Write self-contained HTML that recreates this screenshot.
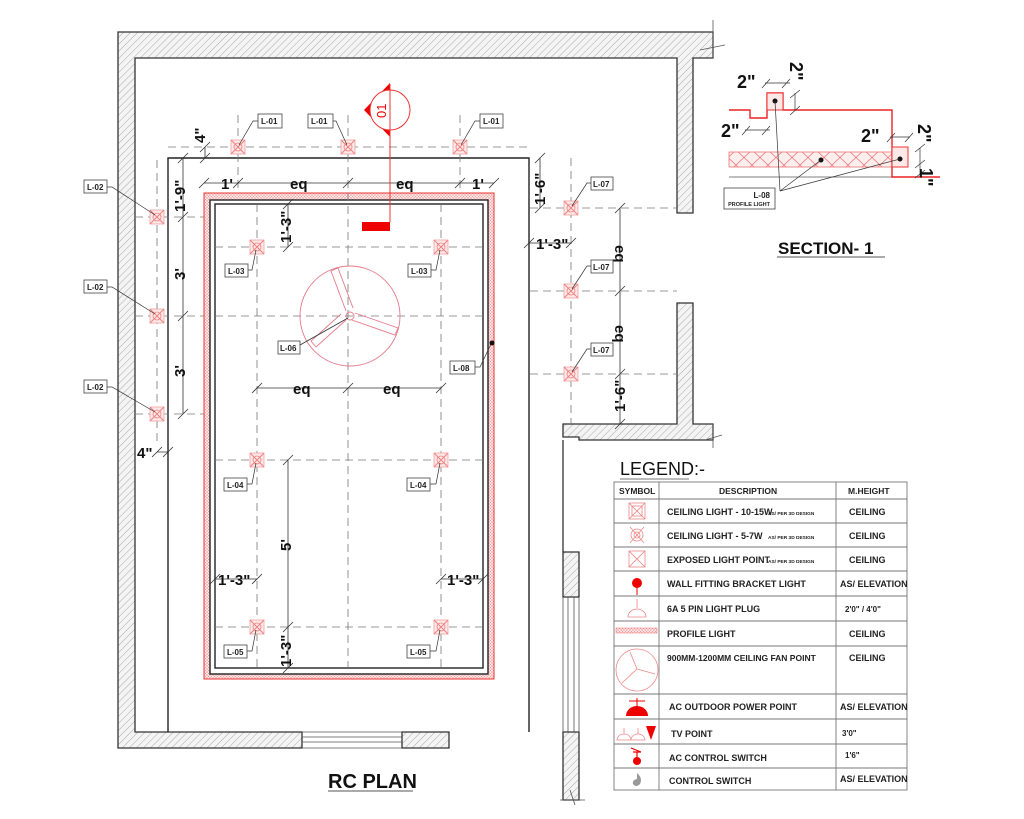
<!DOCTYPE html>
<html><head><meta charset="utf-8"><style>
html,body{margin:0;padding:0;background:#fff}
svg{display:block}
text{font-family:"Liberation Sans",Arial,sans-serif}
</style></head><body>
<svg width="1024" height="819" viewBox="0 0 1024 819" xmlns="http://www.w3.org/2000/svg">
<defs>
<pattern id="h" patternUnits="userSpaceOnUse" width="5" height="5" patternTransform="rotate(45)">
<rect width="5" height="5" fill="#f4f4f4"/><line x1="0" y1="0" x2="0" y2="5" stroke="#aaa" stroke-width="1"/></pattern>
<pattern id="x" patternUnits="userSpaceOnUse" width="3" height="3">
<rect width="3" height="3" fill="#fce8e8"/><path d="M0 0L3 3M3 0L0 3" stroke="#f29a9a" stroke-width="0.5"/></pattern>
<pattern id="x2" patternUnits="userSpaceOnUse" width="16" height="15">
<rect width="16" height="15" fill="#fdeeee"/><path d="M0 0L16 15M16 0L0 15" stroke="#e77" stroke-width="0.8"/></pattern>
<g id="L">
<rect x="-7" y="-7" width="14" height="14" fill="#fde8e8" stroke="#f3a0a0" stroke-width="0.8"/>
<path d="M-7 -7L7 7M7 -7L-7 7" stroke="#f08080" stroke-width="1"/>
<circle r="4" fill="none" stroke="#f08080" stroke-width="0.8"/>
</g>
</defs>

<!-- walls -->
<g stroke="#333" stroke-width="1.3">
<path d="M118 32H713V58H693V213H677V58H135V732H302V748H118Z" fill="url(#h)"/>
<path d="M402 732H449V748H402Z" fill="url(#h)"/>
<path d="M677 303H693V424H713V440H579V437H563V424H677Z" fill="url(#h)"/>
<path d="M563 552H579V597H563Z" fill="url(#h)"/>
<path d="M563 732H579V800H563Z" fill="url(#h)"/>
<path d="M563 440V552" fill="none"/>
</g>
<g stroke="#555" stroke-width="0.8" fill="none">
<path d="M302 732H402M302 737H402M302 742H402M302 748H402"/>
<path d="M563 597V732M568 597V732M574 597V732M579 597V732"/>
<path d="M713 20V58M700 50L725 45 M713 424V448M705 440L722 435"/>
<path d="M570 790L575 805M560 800H585"/>
</g>

<!-- ceiling boundary -->
<g fill="none" stroke="#222" stroke-width="1.4">
<path d="M168 732V158H529V732"/>
</g>
<rect x="204" y="193" width="290" height="486" fill="url(#x)" stroke="#e33" stroke-width="1"/>
<rect x="210" y="200" width="278" height="474" fill="#fff" stroke="#222" stroke-width="1.4"/>
<rect x="215" y="204" width="268" height="464" fill="#fff" stroke="#222" stroke-width="1.4"/>

<!-- dashed grid -->
<g stroke="#777" stroke-width="0.8" stroke-dasharray="8,5" fill="none">
<path d="M168 147H530"/>
<path d="M238 115V193M348 115V668M460 115V193"/>
<path d="M257 204V668M441 204V668"/>
<path d="M215 247H483M215 316H483M215 460H483M215 627H483"/>
<path d="M135 217H204M135 316H204M135 414H204"/>
<path d="M157 160V445"/>
<path d="M530 208H677M530 291H677M530 374H677"/>
<path d="M571 158V424"/>
</g>

<!-- dimension lines -->
<g stroke="#333" stroke-width="0.8" fill="none">
<path d="M183 158V414M178 163L188 153M178 222L188 212M178 321L188 311M178 419L188 409"/>
<path d="M205 147V158M200 152L210 142M200 163L210 153"/>
<path d="M204 183H494M199 188L209 178M233 188L243 178M343 188L353 178M455 188L465 178M489 188L499 178"/>
<path d="M288 204V247M283 209L293 199M283 252L293 242"/>
<path d="M540 158V208M535 163L545 153M535 213L545 203"/>
<path d="M529 243H571M524 248L534 238M566 248L576 238"/>
<path d="M620 208V424M615 213L625 203M615 296L625 286M615 379L625 369M615 429L625 419"/>
<path d="M257 388H441M252 393L262 383M343 393L353 383M436 393L446 383"/>
<path d="M288 460V627M283 465L293 455M283 632L293 622"/>
<path d="M215 579H257M210 584L220 574M252 584L262 574"/>
<path d="M441 579H483M436 584L446 574M478 584L488 574"/>
<path d="M288 627V668M283 673L293 663"/>
<path d="M157 452H168M152 457L162 447M163 457L173 447"/>
</g>
<g font-size="15" fill="#111" font-weight="bold">
<text x="221" y="189">1'</text><text x="290" y="189">eq</text><text x="396" y="189">eq</text><text x="472" y="189">1'</text>
<text x="293" y="394">eq</text><text x="383" y="394">eq</text>
<text x="218" y="585">1'-3"</text><text x="447" y="585">1'-3"</text>
<text x="536" y="249">1'-3"</text>
<text x="137" y="458">4"</text>
<text transform="translate(205,143) rotate(-90)">4"</text>
<text transform="translate(185,212) rotate(-90)">1'-9"</text>
<text transform="translate(185,280) rotate(-90)">3'</text>
<text transform="translate(185,377) rotate(-90)">3'</text>
<text transform="translate(291,243) rotate(-90)">1'-3"</text>
<text transform="translate(291,551) rotate(-90)">5'</text>
<text transform="translate(291,667) rotate(-90)">1'-3"</text>
<text transform="translate(545,205) rotate(-90)">1'-6"</text>
<text transform="translate(615,245) rotate(90)">eq</text>
<text transform="translate(615,325) rotate(90)">eq</text>
<text transform="translate(625,412) rotate(-90)">1'-6"</text>
</g>

<!-- fan -->
<g stroke="#e57a8a" stroke-width="0.9" fill="none">
<circle cx="350" cy="316" r="50"/>
<path d="M346 311L331 271L338 268L353 308"/>
<path d="M355 313L398 328L395 335L352 320"/>
<path d="M346 320L316 347L311 341L341 314"/>
<circle cx="350" cy="316" r="4"/>
</g>
<path d="M300 345L348 318" stroke="#333" stroke-width="0.8"/>

<!-- lights -->
<use href="#L" x="238" y="147"/><use href="#L" x="348" y="147"/><use href="#L" x="460" y="147"/>
<use href="#L" x="157" y="217"/><use href="#L" x="157" y="316"/><use href="#L" x="157" y="414"/>
<use href="#L" x="257" y="247"/><use href="#L" x="441" y="247"/>
<use href="#L" x="257" y="460"/><use href="#L" x="441" y="460"/>
<use href="#L" x="257" y="627"/><use href="#L" x="441" y="627"/>
<use href="#L" x="571" y="208"/><use href="#L" x="571" y="291"/><use href="#L" x="571" y="374"/>

<!-- leaders -->
<g stroke="#333" stroke-width="0.7" fill="none">
<path d="M258 121H253L239 145M333 121H336L347 145M480 121H475L461 145"/>
<path d="M107 187H112L155 215M107 287H112L155 314M107 387H112L155 412"/>
<path d="M248 270H252L256 250M431 270H436L440 250"/>
<path d="M247 484H252L256 463M430 484H436L440 463"/>
<path d="M247 651H252L256 630M430 651H436L440 630"/>
<path d="M591 183H587L572 206M591 266H587L572 289M591 349H587L572 372"/>
<path d="M475 367H480L491 344"/>
</g>
<circle cx="492" cy="343" r="2.5" fill="#111"/>
<g font-size="8" font-weight="bold" fill="#222">
<g stroke="#444" stroke-width="0.8" fill="#fff">
<rect x="258" y="114" width="24" height="14"/><rect x="308" y="114" width="25" height="14"/><rect x="480" y="114" width="23" height="14"/>
<rect x="84" y="180" width="23" height="13"/><rect x="84" y="280" width="23" height="13"/><rect x="84" y="380" width="23" height="13"/>
<rect x="225" y="264" width="23" height="13"/><rect x="408" y="264" width="23" height="13"/>
<rect x="278" y="341" width="22" height="13"/><rect x="450" y="361" width="25" height="13"/>
<rect x="224" y="478" width="23" height="13"/><rect x="407" y="478" width="23" height="13"/>
<rect x="224" y="645" width="23" height="13"/><rect x="407" y="645" width="23" height="13"/>
<rect x="591" y="177" width="22" height="13"/><rect x="591" y="260" width="22" height="13"/><rect x="591" y="343" width="22" height="13"/>
</g>
<text x="261" y="124">L-01</text><text x="311" y="124">L-01</text><text x="483" y="124">L-01</text>
<text x="87" y="190">L-02</text><text x="87" y="290">L-02</text><text x="87" y="390">L-02</text>
<text x="228" y="274">L-03</text><text x="411" y="274">L-03</text>
<text x="280" y="351">L-06</text><text x="453" y="371">L-08</text>
<text x="227" y="488">L-04</text><text x="410" y="488">L-04</text>
<text x="227" y="655">L-05</text><text x="410" y="655">L-05</text>
<text x="593" y="187">L-07</text><text x="593" y="270">L-07</text><text x="593" y="353">L-07</text>
</g>

<!-- section marker -->
<path d="M364 110L390 83V137Z" fill="#e00"/>
<circle cx="390" cy="110" r="20" fill="#fff" stroke="#e33" stroke-width="1"/>
<path d="M390 84V222" stroke="#e33" stroke-width="1"/>
<rect x="362" y="222" width="28" height="9" fill="#e00"/>
<text transform="translate(386,118) rotate(-90)" font-size="13" fill="#e00">01</text>

<!-- titles -->
<text x="328" y="788" font-size="20" font-weight="bold" fill="#111">RC PLAN</text>
<path d="M328 791H413" stroke="#555" stroke-width="1"/>

<!-- SECTION -->
<rect x="729" y="152" width="163" height="15" fill="url(#x2)" stroke="#e77" stroke-width="0.8"/>
<path d="M729 177H892" stroke="#555" stroke-width="0.8"/>
<path d="M729 110H750V118H767V93H783V110H892V177H940" fill="none" stroke="#e22" stroke-width="1.4"/>
<rect x="767" y="93" width="16" height="17" fill="#fde8e8" stroke="#e33" stroke-width="1"/>
<rect x="892" y="147" width="16" height="20" fill="#fde8e8" stroke="#e33" stroke-width="1"/>
<circle cx="775" cy="101" r="2.5" fill="#111"/><circle cx="900" cy="159" r="2.5" fill="#111"/><circle cx="821" cy="160" r="2.5" fill="#111"/>
<g stroke="#333" stroke-width="0.7" fill="none">
<path d="M775 101L780 191M821 160L780 191M900 159L780 191"/>
<path d="M765 83H790M762 88L770 79M782 88L790 79"/>
<path d="M795 93V110M790 98L800 90M790 115L800 106"/>
<path d="M745 130H770M742 135L750 126M762 135L770 126"/>
<path d="M890 137H910M887 142L895 133M905 142L913 133"/>
<path d="M920 148V177M915 152L925 144M915 168L925 160M915 178L925 170"/>
</g>
<rect x="724" y="188" width="51" height="21" fill="#fff" stroke="#444" stroke-width="0.8"/>
<text x="770" y="198" font-size="8" font-weight="bold" text-anchor="end" fill="#222">L-08</text>
<text x="770" y="206" font-size="5.5" font-weight="bold" text-anchor="end" fill="#222">PROFILE LIGHT</text>
<g font-size="18" font-weight="bold" fill="#111">
<text x="737" y="88">2"</text><text x="721" y="137">2"</text><text x="861" y="142">2"</text>
<text transform="translate(790,62) rotate(90)">2"</text>
<text transform="translate(918,124) rotate(90)">2"</text>
<text transform="translate(920,168) rotate(90)">1"</text>
</g>
<text x="778" y="254" font-size="17" font-weight="bold" fill="#111">SECTION- 1</text>
<path d="M777 257H885" stroke="#555" stroke-width="1"/>

<!-- LEGEND -->
<text x="620" y="475" font-size="18" fill="#111">LEGEND:-</text>
<path d="M620 479H689" stroke="#777" stroke-width="1"/>
<g stroke="#777" stroke-width="0.9" fill="none">
<rect x="614" y="482" width="293" height="308"/>
<path d="M659 482V790M836 482V790"/>
<path d="M614 499H907M614 523H907M614 547H907M614 571H907M614 596H907M614 621H907M614 646H907M614 694H907M614 719H907M614 744H907M614 768H907"/>
</g>
<g font-size="9" font-weight="bold" fill="#222">
<text x="619" y="494" font-size="8.5">SYMBOL</text><text x="719" y="494" font-size="8.5">DESCRIPTION</text><text x="848" y="494" font-size="8.5">M.HEIGHT</text>
<text x="667" y="515">CEILING LIGHT - 10-15W</text><text x="849" y="515">CEILING</text>
<text x="667" y="539">CEILING LIGHT - 5-7W</text><text x="849" y="539">CEILING</text>
<text x="667" y="563">EXPOSED LIGHT POINT</text><text x="849" y="563">CEILING</text>
<text x="667" y="587">WALL FITTING BRACKET LIGHT</text><text x="840" y="587">AS/ ELEVATION</text>
<text x="667" y="612">6A 5 PIN LIGHT PLUG</text><text x="845" y="612" font-size="8">2'0" / 4'0"</text>
<text x="667" y="637">PROFILE  LIGHT</text><text x="849" y="637">CEILING</text>
<text x="667" y="661" font-size="8.5">900MM-1200MM CEILING FAN POINT</text><text x="849" y="661">CEILING</text>
<text x="669" y="710">AC OUTDOOR POWER POINT</text><text x="840" y="710">AS/ ELEVATION</text>
<text x="671" y="737">TV POINT</text><text x="842" y="736" font-size="8">3'0"</text>
<text x="669" y="761">AC CONTROL SWITCH</text><text x="845" y="758" font-size="8">1'6"</text>
<text x="669" y="784">CONTROL SWITCH</text><text x="840" y="782">AS/ ELEVATION</text>
<g font-size="4.8"><text x="768" y="515">AS/ PER 3D DESIGN</text><text x="768" y="539">AS/ PER 3D DESIGN</text><text x="768" y="563">AS/ PER 3D DESIGN</text></g>
</g>
<!-- legend symbols -->
<g stroke="#e88" stroke-width="0.8" fill="none">
<rect x="629" y="503" width="16" height="16"/><path d="M629 503L645 519M645 503L629 519"/><rect x="632" y="506" width="10" height="10"/>
<path d="M630 527L644 543M644 527L630 543"/><circle cx="637" cy="535" r="6"/><circle cx="637" cy="535" r="3"/>
<rect x="629" y="551" width="16" height="16"/><path d="M629 551L645 567M645 551L629 567"/>
<path d="M637 599V608M628 617A9 8 0 0 1 646 617Z"/>
<circle cx="637" cy="670" r="21"/>
<path d="M637 669L630 652M637 669L655 674M637 669L622 683"/>
<path d="M617 740A7 6 0 0 1 631 740ZM631 740A7 6 0 0 1 645 740Z"/>
<path d="M624 728V734M638 728V734"/>
</g>
<rect x="616" y="628" width="41" height="5" fill="url(#x)" stroke="#e66" stroke-width="0.5"/>
<circle cx="637" cy="583" r="5" fill="#e00"/><path d="M637 588V595" stroke="#e00"/>
<path d="M626 716A11 10 0 0 1 648 716Z" fill="#e00"/><path d="M637 698V706M629 701H645" stroke="#e00"/>
<path d="M646 726H656L651 740Z" fill="#e00"/>
<circle cx="637" cy="761" r="4" fill="#e00"/><path d="M633 752H641M637 752V757M631 748L641 752" stroke="#e00" stroke-width="1.2"/>
<path d="M637 773Q643 778 640 784Q636 788 633 784Q632 780 637 779Z" fill="#999"/>
</svg>
</body></html>
